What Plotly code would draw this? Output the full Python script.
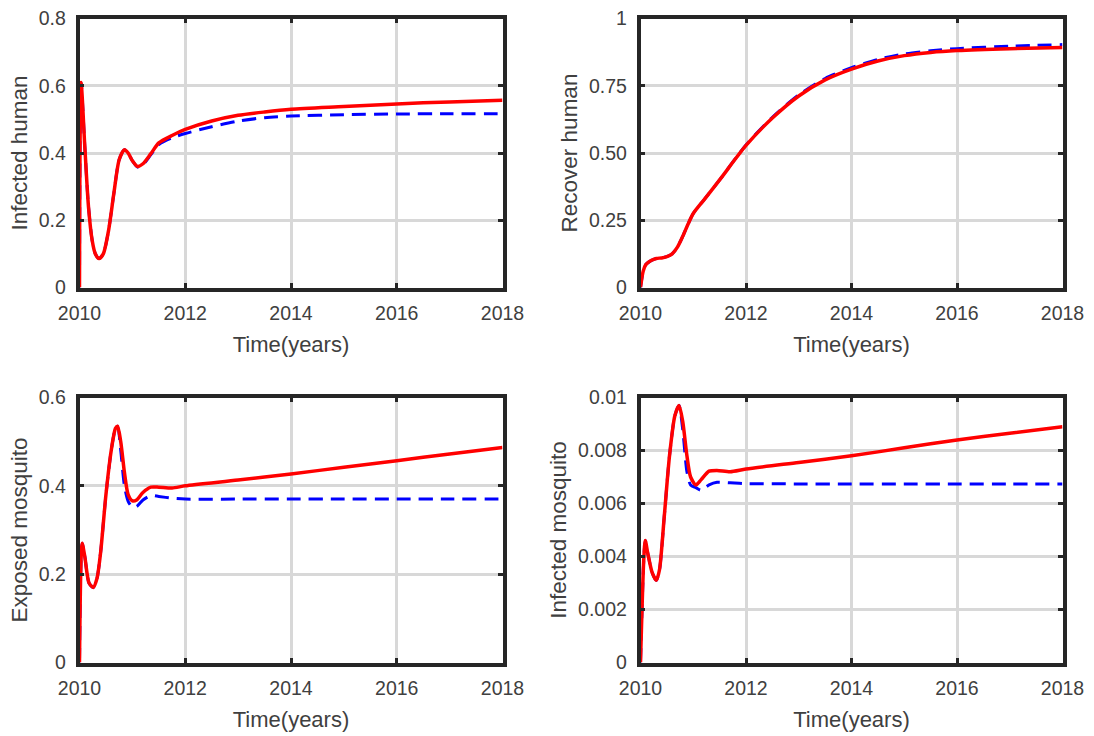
import plotly.graph_objects as go

# ---------------- data ----------------
# Infected human
ih_t_red = [2010.0, 2010.03, 2010.1, 2010.17, 2010.24, 2010.3, 2010.37, 2010.45, 2010.55, 2010.65,
            2010.75, 2010.85, 2010.92, 2011.0, 2011.1, 2011.2, 2011.35, 2011.5, 2011.75, 2012.0,
            2012.5, 2013.0, 2013.5, 2014.0, 2015.0, 2016.0, 2017.0, 2018.0]
ih_red = [0.0, 0.61, 0.42, 0.24, 0.14, 0.10, 0.086, 0.10, 0.17, 0.28,
          0.38, 0.41, 0.40, 0.377, 0.36, 0.368, 0.398, 0.43, 0.452, 0.47,
          0.495, 0.512, 0.522, 0.53, 0.538, 0.546, 0.552, 0.557]
ih_t_blue = ih_t_red
ih_blue = [0.0, 0.61, 0.42, 0.24, 0.14, 0.10, 0.086, 0.10, 0.17, 0.28,
           0.38, 0.41, 0.40, 0.377, 0.358, 0.365, 0.395, 0.425, 0.445, 0.458,
           0.478, 0.495, 0.505, 0.51, 0.514, 0.516, 0.517, 0.517]

# Recover human
rh_t = [2010.0, 2010.05, 2010.1, 2010.2, 2010.3, 2010.4, 2010.5, 2010.6, 2010.7, 2010.8,
        2010.9, 2011.0, 2011.2, 2011.5, 2012.0, 2012.5, 2013.0, 2013.5, 2014.0, 2014.5,
        2015.0, 2015.5, 2016.0, 2017.0, 2018.0]
rh_red = [0.0, 0.06, 0.085, 0.10, 0.108, 0.11, 0.115, 0.125, 0.15, 0.19,
          0.235, 0.275, 0.325, 0.40, 0.528, 0.63, 0.712, 0.772, 0.812, 0.842,
          0.862, 0.874, 0.881, 0.888, 0.892]
rh_blue = [0.0, 0.06, 0.085, 0.10, 0.108, 0.11, 0.115, 0.125, 0.15, 0.19,
           0.235, 0.275, 0.325, 0.40, 0.53, 0.633, 0.716, 0.777, 0.817, 0.848,
           0.868, 0.880, 0.888, 0.897, 0.903]

# Exposed mosquito
em_t = [2010.0, 2010.05, 2010.1, 2010.18, 2010.26, 2010.33, 2010.4, 2010.5, 2010.6, 2010.68,
        2010.72, 2010.78, 2010.85, 2010.92, 2011.0, 2011.08, 2011.2, 2011.35, 2011.5, 2011.75,
        2012.0, 2013.0, 2014.0, 2015.0, 2016.0, 2017.0, 2018.0]
em_red = [0.0, 0.27, 0.24, 0.18, 0.17, 0.19, 0.25, 0.38, 0.48, 0.53,
          0.535, 0.50, 0.43, 0.38, 0.366, 0.368, 0.385, 0.397, 0.397, 0.395,
          0.40, 0.413, 0.427, 0.442, 0.457, 0.472, 0.487]
em_blue = [0.0, 0.27, 0.24, 0.18, 0.17, 0.19, 0.25, 0.38, 0.48, 0.53,
           0.535, 0.48, 0.40, 0.365, 0.352, 0.353, 0.368, 0.378, 0.376, 0.372,
           0.37, 0.37, 0.37, 0.37, 0.37, 0.37, 0.37]

# Infected mosquito
im_t = [2010.0, 2010.06, 2010.09, 2010.14, 2010.22, 2010.3, 2010.36, 2010.45, 2010.55, 2010.65,
        2010.73, 2010.8, 2010.88, 2010.95, 2011.05, 2011.15, 2011.3, 2011.45, 2011.7, 2012.0,
        2013.0, 2014.0, 2015.0, 2016.0, 2017.0, 2018.0]
im_red = [0.0, 0.0038, 0.0046, 0.0041, 0.0034, 0.0031, 0.0035, 0.0055, 0.0078, 0.0093,
          0.0097, 0.0091, 0.0078, 0.0070, 0.0067, 0.0069, 0.00722, 0.00725, 0.0072, 0.0073,
          0.00755, 0.0078, 0.0081, 0.0084, 0.00865, 0.0089]
im_blue = [0.0, 0.0038, 0.0046, 0.0041, 0.0034, 0.0031, 0.0035, 0.0055, 0.0078, 0.0093,
           0.0097, 0.0088, 0.0072, 0.0067, 0.0066, 0.0065, 0.0067, 0.0068, 0.00678, 0.00675,
           0.00674, 0.00674, 0.00674, 0.00674, 0.00674, 0.00674]

x_ticks = [2010, 2012, 2014, 2016, 2018]
panels = [
    dict(t_blue=ih_t_blue, blue=ih_blue, t_red=ih_t_red, red=ih_red, title="Infected human",
         yrange=[0, 0.8], yticks=[0, 0.2, 0.4, 0.6, 0.8], yticktext=["0", "0.2", "0.4", "0.6", "0.8"]),
    dict(t_blue=rh_t, blue=rh_blue, t_red=rh_t, red=rh_red, title="Recover human",
         yrange=[0, 1], yticks=[0, 0.25, 0.5, 0.75, 1], yticktext=["0", "0.25", "0.50", "0.75", "1"]),
    dict(t_blue=em_t, blue=em_blue, t_red=em_t, red=em_red, title="Exposed mosquito",
         yrange=[0, 0.6], yticks=[0, 0.2, 0.4, 0.6], yticktext=["0", "0.2", "0.4", "0.6"]),
    dict(t_blue=im_t, blue=im_blue, t_red=im_t, red=im_red, title="Infected mosquito",
         yrange=[0, 0.01], yticks=[0, 0.002, 0.004, 0.006, 0.008, 0.01],
         yticktext=["0", "0.002", "0.004", "0.006", "0.008", "0.01"]),
]

W, H = 1094, 736
# plot-area pixel boxes (left, right, top, bottom)
boxes = [(79.5, 502.5, 18.5, 287.5), (640.5, 1062.5, 18.5, 287.5),
         (79.5, 502.5, 397.5, 662.5), (640.5, 1062.5, 397.5, 662.5)]

FONT = "Liberation Sans, Arial, Helvetica, sans-serif"
FRAME = "#262626"
GRID = "#d8d8d8"
TXT = "#404040"

fig = go.Figure()
layout = dict(
    width=W, height=H, margin=dict(l=0, r=0, t=0, b=0, autoexpand=False),
    paper_bgcolor="white", plot_bgcolor="white", showlegend=False,
    font=dict(family=FONT, color=TXT),
)

for i, p in enumerate(panels):
    n = "" if i == 0 else str(i + 1)
    xa, ya = "x" + n, "y" + n
    fig.add_trace(go.Scatter(x=p["t_blue"], y=p["blue"], mode="lines", xaxis=xa, yaxis=ya,
                             line=dict(color="#0000ff", width=3, dash="14px,8px", shape="spline", smoothing=0.7),
                             cliponaxis=True))
    fig.add_trace(go.Scatter(x=p["t_red"], y=p["red"], mode="lines", xaxis=xa, yaxis=ya,
                             line=dict(color="#ff0000", width=3.5, shape="spline", smoothing=0.7),
                             cliponaxis=True))
    l, r, t, b = boxes[i]
    common = dict(showline=True, linewidth=3.5, linecolor=FRAME, mirror="allticks",
                  ticks="inside", ticklen=5, tickwidth=3, tickcolor=FRAME,
                  showgrid=True, gridcolor=GRID, gridwidth=2.5, zeroline=False,
                  automargin=False,
                  tickfont=dict(family=FONT, size=19.5, color=TXT))
    layout["xaxis" + n] = dict(common, domain=[l / W, r / W], anchor=ya, range=[2010, 2018],
                               tickvals=x_ticks, ticktext=[str(v) for v in x_ticks],
                               ticklabelstandoff=5,
                               title=dict(text="Time(years)", font=dict(family=FONT, size=22, color=TXT), standoff=15))
    layout["yaxis" + n] = dict(common, domain=[1 - b / H, 1 - t / H], anchor=xa, range=p["yrange"],
                               tickvals=p["yticks"], ticktext=p["yticktext"],
                               ticklabelstandoff=6,
                               title=dict(text=p["title"], font=dict(family=FONT, size=22.5, color=TXT), standoff=6))

fig.update_layout(**layout)
fig.write_html("out.html")
